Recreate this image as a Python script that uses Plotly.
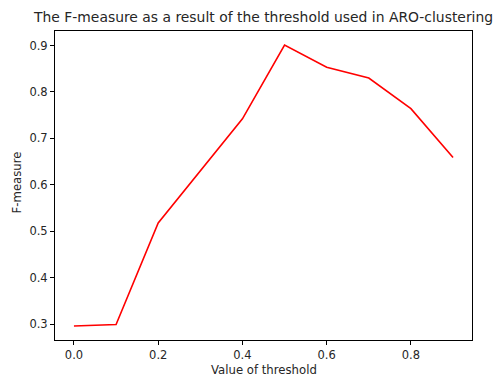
import plotly.graph_objects as go

thresholds = [0.0, 0.1, 0.2, 0.3, 0.4, 0.5, 0.6, 0.7, 0.8, 0.9]
f_measure = [0.296, 0.299, 0.518, 0.629, 0.742, 0.901, 0.853, 0.830, 0.764, 0.659]
x_ticks = [0.0, 0.2, 0.4, 0.6, 0.8]
y_ticks = [0.3, 0.4, 0.5, 0.6, 0.7, 0.8, 0.9]

title_text = "The F-measure as a result of the threshold used in ARO-clustering"
x_label = "Value of threshold"
y_label = "F-measure"

font_family = "DejaVu Sans"
text_color = "#262626"

W, H = 495, 379
L, R, T, B = 55, 23, 31, 39
plot_w, plot_h = W - L - R, H - T - B

fig = go.Figure()
fig.add_trace(go.Scatter(x=thresholds, y=f_measure, mode="lines",
                         line=dict(color="#ff0000", width=1.6)))

xr = (max(thresholds) - min(thresholds)) * 0.05
ymin, ymax = min(f_measure), max(f_measure)
yr = (ymax - ymin) * 0.05

axis_common = dict(showline=True, linecolor="black", linewidth=1, mirror=True,
                   ticks="outside", ticklen=4, tickwidth=1, tickcolor="black",
                   showgrid=False, zeroline=False, automargin=False,
                   tickfont=dict(family=font_family, size=11.5, color=text_color))

fig.update_layout(
    width=W, height=H,
    margin=dict(l=L, r=R, t=T, b=B),
    paper_bgcolor="white", plot_bgcolor="white",
    showlegend=False,
    font=dict(family=font_family, color=text_color),
    title=dict(text=title_text, x=0.5325, xanchor="center", y=1 - 17 / H,
               yanchor="middle", font=dict(family=font_family, size=13.9, color=text_color)),
    xaxis=dict(range=[min(thresholds) - xr, max(thresholds) + xr],
               tickvals=x_ticks, tickformat=".1f", **axis_common),
    yaxis=dict(range=[ymin - yr, ymax + yr],
               tickvals=y_ticks, tickformat=".1f", **axis_common),
    annotations=[
        dict(text=x_label, xref="paper", yref="paper", x=0.5,
             y=-(370 - (H - B)) / plot_h,
             xanchor="center", yanchor="middle", showarrow=False,
             font=dict(family=font_family, size=11.7, color=text_color)),
        dict(text=y_label, xref="paper", yref="paper", x=-(L - 17) / plot_w, y=0.51,
             xanchor="center", yanchor="middle", textangle=-90, showarrow=False,
             font=dict(family=font_family, size=11.7, color=text_color)),
    ],
)

fig.write_html("out.html")
